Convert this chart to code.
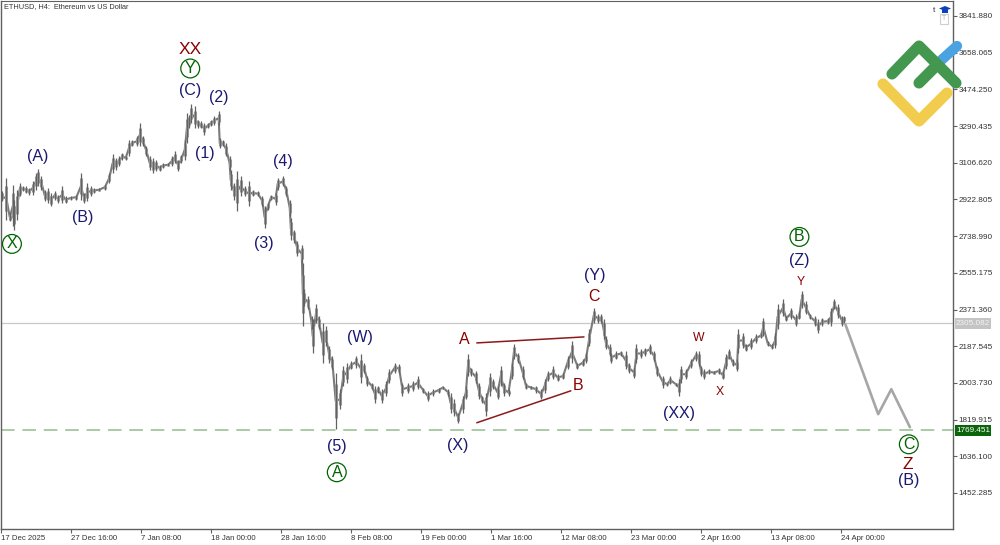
import numpy as np, pandas as pd, matplotlib
matplotlib.use("Agg")
import matplotlib.pyplot as plt, seaborn as sns
from matplotlib.patches import Rectangle, Polygon

bars = [1,5,8,11,12,15,17,20,23,26,29,32,34,37,40,43,46,49,52,56,59,64,69,73,76,79,82,85,90,95,99,102,105,108,111,114,117,120,124,127,130,133,136,139,142,145,148,153,156,159,162,165,168,170,172,174,177,180,183,186,189,192,195,199,200,203,206,209,210,213,216,219,223,227,230,235,239,241,244,247,251,253,258,261,264,265,268,271,275,
276,277,281,284,285,288,291,294,297,300,303,306,310,313,316,320,325,329,332,335,339,342,345,348,352,355,360,364,367,372,377,381,386,390,395,400,404,409,411,414,418,422,425,427,430,434,437,440,443,447,450,454,457,460,464,467,469,473,477,480,485,489,494,497,500,505,509,514,518,522,527,532,535,538,542,546,549,551,553,557,
558,562,567,571,574,579,581,585,589,593,597,600,605,609,612,617,620,622,626,631,635,638,640,643,647,652,656,660,663,666,669,673,674,678,681,686,690,695,697,701,705,708,710,715,718,722,727,730,732,736,740,744,747,751,756,759,762,765,769,771]
highs = [2964,3030,2855,2997,2922,2972,3005,2989,2989,2980,3014,3055,3075,3039,2972,2980,2955,2964,2947,2989,2939,2939,2947,3055,2955,3005,2989,2980,2980,2997,3055,3152,3130,3139,3155,3139,3222,3222,3239,3305,3239,3189,3139,3130,3122,3097,3105,3105,3139,3164,3122,3147,3222,3355,3347,3402,3389,3322,3314,3305,3305,3322,3339,3364,3230,3222,3205,3139,3072,3005,3064,3039,2989,3014,2972,2964,2939,2889,2905,2947,2955,3030,3039,2989,2922,2830,2772,2714,2697,
2605,2472,2439,2339,2322,2397,2339,2305,2289,2189,2139,2055,1972,2089,2105,2114,2139,2147,2105,2039,2005,1989,1989,1972,2014,2072,2105,2097,2005,2005,2014,2039,1980,1964,1972,1980,1989,1972,1955,1922,1855,1939,1989,2147,2080,2064,2005,1939,1955,2055,2022,1989,2089,2005,1972,2105,2197,2155,2089,2005,1989,1989,1972,2022,2064,2089,2047,2055,2139,2214,2105,2122,2155,2272,2380,2347,2347,2322,2239,2197,
2155,2164,2164,2164,2105,2080,2197,2172,2180,2197,2164,2089,2039,2005,2039,2005,2022,2089,2072,2122,2164,2164,2089,2072,2072,2064,2080,2064,2147,2172,2122,2122,2272,2255,2197,2230,2247,2255,2330,2214,2197,2255,2397,2422,2339,2380,2347,2364,2464,2414,2347,2339,2322,2330,2330,2380,2422,2397,2339,2339]
lows = [2914,2822,2814,2789,2772,2822,2939,2964,2955,2947,2947,2972,2989,2972,2914,2905,2889,2922,2905,2905,2905,2922,2922,2922,2905,2914,2939,2955,2964,2972,3005,3055,3072,3089,3122,3122,3139,3189,3189,3189,3189,3139,3072,3055,3064,3064,3080,3089,3089,3105,3064,3105,3122,3205,3280,3305,3280,3280,3280,3247,3280,3289,3297,3297,3180,3189,3139,3072,2972,2922,2864,2939,2939,2889,2939,2939,2889,2780,2872,2922,2897,2972,2989,2939,2839,2722,2705,2639,2605,
2289,2389,2372,2272,2155,2305,2272,2105,2189,2105,2072,1772,1872,1989,2005,2072,2080,2005,2055,1989,1972,1905,1955,1905,1939,2005,2055,2055,1939,1955,1964,1972,1955,1914,1939,1955,1972,1939,1855,1839,1805,1855,1922,2039,2039,2005,1922,1905,1839,1939,1972,1922,1989,1939,1939,2022,2122,2105,2022,1972,1972,1955,1922,1955,2014,2022,2014,2022,2072,2105,2072,2089,2105,2189,2305,2305,2305,2222,2172,2139,
2105,2122,2139,2072,2055,2030,2105,2130,2139,2147,2114,2039,1980,1989,1997,1989,1939,2005,2022,2080,2114,2089,2039,2022,2047,2047,2047,2022,2072,2122,2089,2064,2155,2180,2164,2172,2205,2230,2239,2189,2172,2180,2272,2339,2314,2322,2289,2322,2380,2347,2322,2289,2255,2289,2297,2289,2372,2330,2289,2305]

forecast_bars = [772, 802, 814, 831]
forecast_vals = [2297, 1847, 1972, 1782]
current_price = 2305.082
support_price = 1769.451
wedge_a_bars, wedge_a_vals = [435, 533], [2204, 2234]
wedge_b_bars, wedge_b_vals = [435, 521], [1804, 1964]

ytick_vals = [3841.880,3658.065,3474.250,3290.435,3106.620,2922.805,2738.990,2555.175,2371.360,2187.545,2003.730,1819.915,1636.100,1452.285]
xtick_labels = ["17 Dec 2025","27 Dec 16:00","7 Jan 08:00","18 Jan 00:00","28 Jan 16:00","8 Feb 08:00","19 Feb 00:00","1 Mar 16:00","12 Mar 08:00","23 Mar 00:00","2 Apr 16:00","13 Apr 08:00","24 Apr 00:00"]

NAVY, RED, GREEN = "#191970", "#8b0000", "#006400"
labels_navy = [("(C)",173,3469),("(2)",199,3434),("(1)",186,3154),("(A)",34,3139),("(B)",75,2830),("(3)",240,2700),("(4)",258,3114),("(W)",328,2230),("(5)",307,1686),("(X)",418,1691),("(Y)",543,2540),("(XX)",620,1851),("(Z)",730,2615),("(B)",830,1516)]
labels_red = [("XX",173,3674,12.5),("A",424,2220,11.5),("B",528,1990,11.5),("C",542,2435,11.5),("W",638,2230,8.8),("X",657,1960,8.8),("Y",731,2510,8.8),("Z",829,1596,12.5)]
labels_circle = [("X",10,2700),("Y",173,3579),("A",307,1556),("B",730,2735),("C",830,1696)]

sns.set_theme(style="white")
plt.rcParams["font.family"] = ["Liberation Sans", "DejaVu Sans"]
W, H = 1000, 545
fig = plt.figure(figsize=(W/100, H/100), dpi=100, facecolor="white")
ax = fig.add_axes([1/W, 1-529/H, 952/W, 528/H])
ax.set_xlim(0, 870.4)
ax.set_ylim(1271.7, 3917)

mids = [(h + l) / 2 for h, l in zip(highs, lows)]
body_hi = [m + (h - l) * 0.3 for m, h, l in zip(mids, highs, lows)]
body_lo = [m - (h - l) * 0.3 for m, h, l in zip(mids, highs, lows)]
price = pd.DataFrame({"bar": bars, "price": mids})
sns.lineplot(data=price, x="bar", y="price", sort=False, estimator=None, color="#7a7a7a", lw=1.5, ax=ax, zorder=2)
ax.vlines(bars, body_lo, body_hi, color="#9c9c9c", lw=2.2, zorder=2.5)
ax.vlines(bars, lows, highs, color="#626262", lw=0.9, zorder=3)
sns.lineplot(x=forecast_bars, y=forecast_vals, sort=False, estimator=None, color="#a6a6a6", lw=1.9, ax=ax, zorder=3)
sns.lineplot(x=wedge_a_bars, y=wedge_a_vals, color="#8b1a1a", lw=1.1, ax=ax, zorder=4)
sns.lineplot(x=wedge_b_bars, y=wedge_b_vals, color="#8b1a1a", lw=1.1, ax=ax, zorder=4)
ax.axhline(current_price, color="#c8c8c8", lw=0.9, zorder=1)
ax.axhline(support_price, color="#a9cca4", lw=1.4, dashes=(7, 4), zorder=1)

for t, b, p in labels_navy:
    ax.text(b, p, t, color=NAVY, fontsize=11.5, ha="center", va="center", zorder=6)
for t, b, p, s in labels_red:
    ax.text(b, p, t, color=RED, fontsize=s, ha="center", va="center", zorder=6)
for t, b, p in labels_circle:
    ax.text(b, p, t, color=GREEN, fontsize=11.5, ha="center", va="center", zorder=6,
            bbox=dict(boxstyle="circle,pad=0.12", fc="none", ec=GREEN, lw=0.9))

for s in ax.spines.values():
    s.set_color("#606060"); s.set_linewidth(1.0)
ax.spines["top"].set_linewidth(0.8)
ax.yaxis.tick_right()
ax.set_yticks(ytick_vals, [f"{v:.3f}" for v in ytick_vals])
ax.set_xticks(np.arange(len(xtick_labels))*64, xtick_labels, ha="left")
ax.tick_params(axis="both", which="major", length=3, width=0.8, color="#606060", labelcolor="#333333", pad=1.0, direction="out", bottom=True, right=True, left=False, top=False)
ax.tick_params(axis="y", labelsize=5.9)
ax.tick_params(axis="x", labelsize=5.6)
ax.set_xlabel(""); ax.set_ylabel("")
ax.grid(False)

# overlay in pixel units for title, price tags and logo
ov = fig.add_axes([0, 0, 1, 1], facecolor="none")
ov.set_xlim(0, W); ov.set_ylim(H, 0); ov.axis("off")
ov.text(3.5, 7, "ETHUSD, H4:  Ethereum vs US Dollar", fontsize=5.3, color="#333333", va="center")
ov.add_patch(Rectangle((955, 424.5), 36, 11, fc="#0a640a", ec="none"))
ov.text(973, 430.2, f"{support_price:.3f}", fontsize=5.9, color="white", ha="center", va="center")
ov.add_patch(Rectangle((955, 317.5), 36, 11, fc="#c4c4c4", ec="none"))
ov.text(973, 323.2, f"{current_price:.3f}", fontsize=5.9, color="#f4f4f4", ha="center", va="center")
def stroke(px, py, c, lw=8.0):
    ov.plot(px, py, color=c, lw=lw, solid_capstyle="round", solid_joinstyle="round")
stroke([937, 957], [64, 46], "#4aa3e0", 7.4)
stroke([883, 919, 947], [84, 121, 93], "#f2cc4d")
stroke([892, 919, 956], [74, 46, 83], "#43974f")
stroke([919, 937], [83, 65], "#43974f")
ov.text(934, 11, "t", fontsize=6, color="#333333", ha="center", va="center")
ov.add_patch(Polygon([[939, 8.5], [945, 6], [951, 8.5], [945, 11]], fc="#0a3fbf", ec="none"))
ov.add_patch(Rectangle((942, 10), 6, 3, fc="#0a3fbf", ec="none"))
ov.add_patch(Rectangle((940, 14), 8, 10, fc="white", ec="#cfcfcf", lw=0.8))
ov.text(944, 19, "T", fontsize=5, color="#b0b0b0", ha="center", va="center")
fig.savefig("out.png", dpi=100)
